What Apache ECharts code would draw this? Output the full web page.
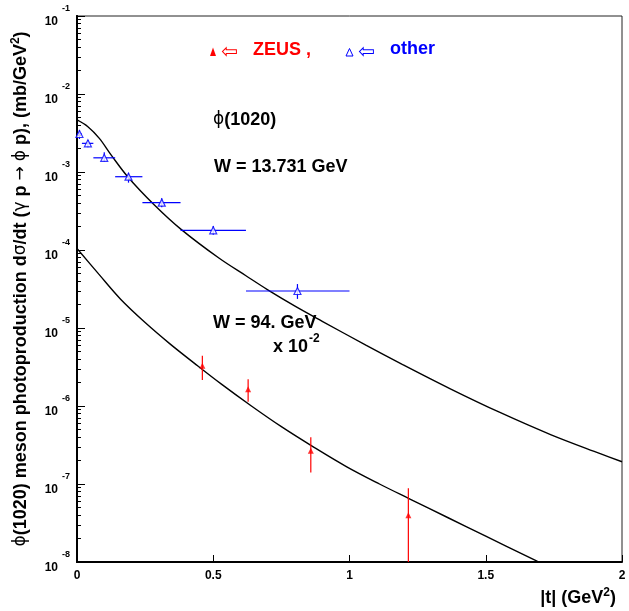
<!DOCTYPE html>
<html>
<head>
<meta charset="utf-8">
<script src="https://cdn.jsdelivr.net/npm/echarts@6/dist/echarts.min.js"></script>
<style>
html,body{margin:0;padding:0;background:#fff;}
#chart{width:629px;height:611px;}
</style>
</head>
<body>
<div id="chart"></div>
<script>
// ---- data ----
// "other" experiments, W = 13.731 GeV (blue open triangles)
const otherT    = [0.009, 0.04, 0.10, 0.189, 0.311, 0.50, 0.809];
const otherXs   = [3.07e-3, 2.33e-3, 1.52e-3, 8.7e-4, 4.05e-4, 1.79e-4, 2.98e-5];
const otherXsLo = [2.65e-3, 2.07e-3, 1.36e-3, 7.3e-4, 3.52e-4, 1.57e-4, 2.36e-5];
const otherXsHi = [3.45e-3, 2.57e-3, 1.79e-3, 9.8e-4, 4.6e-4, 2.03e-4, 3.66e-5];
const otherTLo  = [0.0, 0.018, 0.06, 0.14, 0.24, 0.38, 0.62];
const otherTHi  = [0.018, 0.06, 0.14, 0.24, 0.38, 0.62, 1.0];

// ZEUS, W = 94 GeV (x 1e-2) (red filled triangles)
const zeusT    = [0.46, 0.628, 0.858, 1.216];
const zeusXs   = [3.29e-6, 1.64e-6, 2.67e-7, 3.97e-8];
const zeusXsLo = [2.15e-6, 1.13e-6, 1.40e-7, 5e-9];
const zeusXsHi = [4.42e-6, 2.20e-6, 3.97e-7, 8.81e-8];

// model curves
const curveHiT = [0, 0.04, 0.082, 0.125, 0.186, 0.284, 0.382, 0.522, 0.62, 0.70, 0.80, 0.90, 1.06, 1.19, 1.37, 1.55, 1.74, 1.92, 2.0];
const curveHiY = [4.65e-3, 3.81e-3, 2.70e-3, 1.66e-3, 8.71e-4, 3.78e-4, 1.84e-4, 7.83e-5, 4.68e-5, 3.09e-5, 1.91e-5, 1.22e-5, 6.03e-6, 3.47e-6, 1.66e-6, 8.32e-7, 4.27e-7, 2.45e-7, 1.93e-7];
const curveLoT = [0, 0.08, 0.16, 0.25, 0.34, 0.43, 0.53, 0.64, 0.75, 0.87, 0.99, 1.11, 1.22, 1.36, 1.50, 1.69];
const curveLoY = [1.047e-4, 4.90e-5, 2.34e-5, 1.175e-5, 6.31e-6, 3.55e-6, 1.905e-6, 1.0e-6, 5.43e-7, 2.95e-7, 1.66e-7, 1.0e-7, 6.46e-8, 3.72e-8, 2.14e-8, 1.02e-8];

// axis ticks
const xTicks = [0, 0.5, 1, 1.5, 2];
const yDecades = [1e-8, 1e-7, 1e-6, 1e-5, 1e-4, 1e-3, 1e-2, 1e-1];
const yMinorMult = [2, 3, 4, 5, 6, 7, 8, 9];

// ---- build ----
const FONT = '"Liberation Sans", Arial, Helvetica, sans-serif';
const GREEK = '"DejaVu Sans", sans-serif';
const yMinor = [];
yDecades.slice(0, -1).forEach(d => yMinorMult.forEach(m => yMinor.push(+(m * d).toPrecision(3))));

function zip(...arrs) { return arrs[0].map((_, i) => arrs.map(a => a[i])); }

function errRender(color) {
  return function (params, api) {
    const x = api.value(0), y = api.value(1);
    const c = api.coord([x, y]);
    const xl = api.coord([api.value(2), y]);
    const xh = api.coord([api.value(3), y]);
    const yl = api.coord([x, api.value(4)]);
    const yh = api.coord([x, api.value(5)]);
    const st = { stroke: color, lineWidth: 1.2 };
    return {
      type: 'group',
      children: [
        { type: 'line', shape: { x1: xl[0], y1: c[1], x2: xh[0], y2: c[1] }, style: st },
        { type: 'line', shape: { x1: c[0], y1: yl[1], x2: c[0], y2: yh[1] }, style: st }
      ]
    };
  };
}

const chart = echarts.init(document.getElementById('chart'), null, { renderer: 'canvas' });
const option = {
  animation: false,
  backgroundColor: '#fff',
  grid: { left: 77, right: 7, top: 16, bottom: 49, containLabel: false, outerBoundsMode: 'none',
          show: true, borderColor: '#222', borderWidth: 1 },
  xAxis: {
    type: 'value', min: 0, max: 2, interval: 0.5,
    name: '{t||t| (GeV}{s|2}{t|)}',
    nameLocation: 'end', nameGap: -6,
    nameTextStyle: {
      align: 'right', verticalAlign: 'top', padding: [25, 0, 0, 0],
      rich: {
        t: { fontFamily: FONT, fontWeight: 'bold', fontSize: 18, color: '#000', lineHeight: 22 },
        s: { fontFamily: FONT, fontWeight: 'bold', fontSize: 12, color: '#000', lineHeight: 12, verticalAlign: 'top' }
      }
    },
    axisLine: { lineStyle: { color: '#000', width: 2 } },
    axisTick: { inside: true, length: 7, lineStyle: { color: '#000', width: 1 }, customValues: xTicks },
    axisLabel: { customValues: xTicks, margin: 8, color: '#000', fontFamily: FONT, fontWeight: 'bold', fontSize: 12,
                 showMinLabel: true, showMaxLabel: true },
    splitLine: { show: false }
  },
  yAxis: [
    {
      type: 'log', logBase: 10, min: 1e-8, max: 1e-1,
      name: '{p|ϕ}{t|(1020) meson photoproduction d}{p|σ}{t|/dt (}{p|γ}{t| p }{p|→}{t| }{p|ϕ}{t| p), (mb/GeV}{s|2}{t|)}',
      nameLocation: 'middle', nameRotate: 90, nameGap: 45,
      nameTextStyle: {
        rich: {
          t: { fontFamily: FONT, fontWeight: 'bold', fontSize: 18, color: '#000', lineHeight: 22 },
          p: { fontFamily: GREEK, fontWeight: 'normal', fontSize: 17, color: '#000', lineHeight: 22 },
          s: { fontFamily: FONT, fontWeight: 'bold', fontSize: 12, color: '#000', lineHeight: 12, verticalAlign: 'top' }
        }
      },
      axisLine: { lineStyle: { color: '#000', width: 2 } },
      axisTick: { inside: true, length: 8, lineStyle: { color: '#000', width: 1 }, customValues: yDecades },
      axisLabel: {
        customValues: yDecades, margin: 7, showMinLabel: true, showMaxLabel: true,
        formatter: v => '{g| }{b|10}{s|' + Math.round(Math.log10(v)) + '}',
        rich: {
          g: { fontSize: 1, lineHeight: 23 },
          b: { fontFamily: FONT, fontWeight: 'bold', fontSize: 12, color: '#000', lineHeight: 17, verticalAlign: 'bottom' },
          s: { fontFamily: FONT, fontWeight: 'bold', fontSize: 9, color: '#000', lineHeight: 5, verticalAlign: 'top', padding: [0, 0, 0, 4] }
        }
      },
      splitLine: { show: false }
    },
    {
      type: 'log', logBase: 10, min: 1e-8, max: 1e-1, position: 'left',
      axisLine: { show: true, lineStyle: { color: '#000', width: 2 } },
      axisTick: { show: true, inside: true, length: 4, lineStyle: { color: '#000', width: 1 }, customValues: yMinor },
      axisLabel: { show: false },
      splitLine: { show: false }
    }
  ],
  series: [
    { type: 'line', data: zip(curveHiT, curveHiY), smooth: 0.35, showSymbol: false, clip: true,
      lineStyle: { color: '#000', width: 1.4 }, z: 2 },
    { type: 'line', data: zip(curveLoT, curveLoY), smooth: 0.35, showSymbol: false, clip: true,
      lineStyle: { color: '#000', width: 1.4 }, z: 2 },
    { type: 'custom', renderItem: errRender('#0000ff'), clip: true, z: 3,
      encode: { x: 0, y: 1 },
      data: zip(otherT, otherXs, otherTLo, otherTHi, otherXsLo, otherXsHi) },
    { type: 'custom', renderItem: errRender('#ff0000'), clip: true, z: 3,
      encode: { x: 0, y: 1 },
      data: zip(zeusT, zeusXs, zeusT, zeusT, zeusXsLo, zeusXsHi) },
    { type: 'scatter', data: zip(otherT, otherXs), symbol: 'triangle', symbolSize: 7, z: 4,
      itemStyle: { color: '#fff', borderColor: '#0000ff', borderWidth: 1.2 } },
    { type: 'scatter', data: zip(zeusT, zeusXs), symbol: 'triangle', symbolSize: 6, z: 4,
      itemStyle: { color: '#ff0000' } }
  ],
  graphic: [
    { type: 'polygon', shape: { points: [[213, 47.5], [210, 56], [216, 56]] }, style: { fill: '#ff0000' } },
    { type: 'text', x: 221, y: 53, style: { text: '⇦', font: '20px "DejaVu Sans"', fill: '#ff0000', verticalAlign: 'middle' } },
    { type: 'text', x: 253, y: 50, style: { text: 'ZEUS ,', font: 'bold 18px ' + FONT, fill: '#ff0000', verticalAlign: 'middle' } },
    { type: 'polygon', shape: { points: [[349.5, 48.5], [346, 56], [353, 56]] }, style: { fill: '#fff', stroke: '#0000ff', lineWidth: 1 } },
    { type: 'text', x: 358, y: 53, style: { text: '⇦', font: '20px "DejaVu Sans"', fill: '#0000ff', verticalAlign: 'middle' } },
    { type: 'text', x: 390, y: 49, style: { text: 'other', font: 'bold 18px ' + FONT, fill: '#0000ff', verticalAlign: 'middle' } },
    { type: 'text', x: 213, y: 120, style: { text: '{p|ϕ}{t|(1020)}', verticalAlign: 'middle',
        rich: { p: { fontFamily: GREEK, fontSize: 17, fill: '#000' }, t: { fontFamily: FONT, fontWeight: 'bold', fontSize: 18, fill: '#000' } } } },
    { type: 'text', x: 214, y: 167, style: { text: 'W = 13.731 GeV', font: 'bold 18px ' + FONT, fill: '#000', verticalAlign: 'middle' } },
    { type: 'text', x: 213, y: 323, style: { text: 'W = 94. GeV', font: 'bold 18px ' + FONT, fill: '#000', verticalAlign: 'middle' } },
    { type: 'text', x: 273, y: 347, style: { text: 'x 10', font: 'bold 18px ' + FONT, fill: '#000', verticalAlign: 'middle' } },
    { type: 'text', x: 309, y: 339, style: { text: '-2', font: 'bold 12px ' + FONT, fill: '#000', verticalAlign: 'middle' } }
  ]
};
chart.setOption(option);
</script>
</body>
</html>
